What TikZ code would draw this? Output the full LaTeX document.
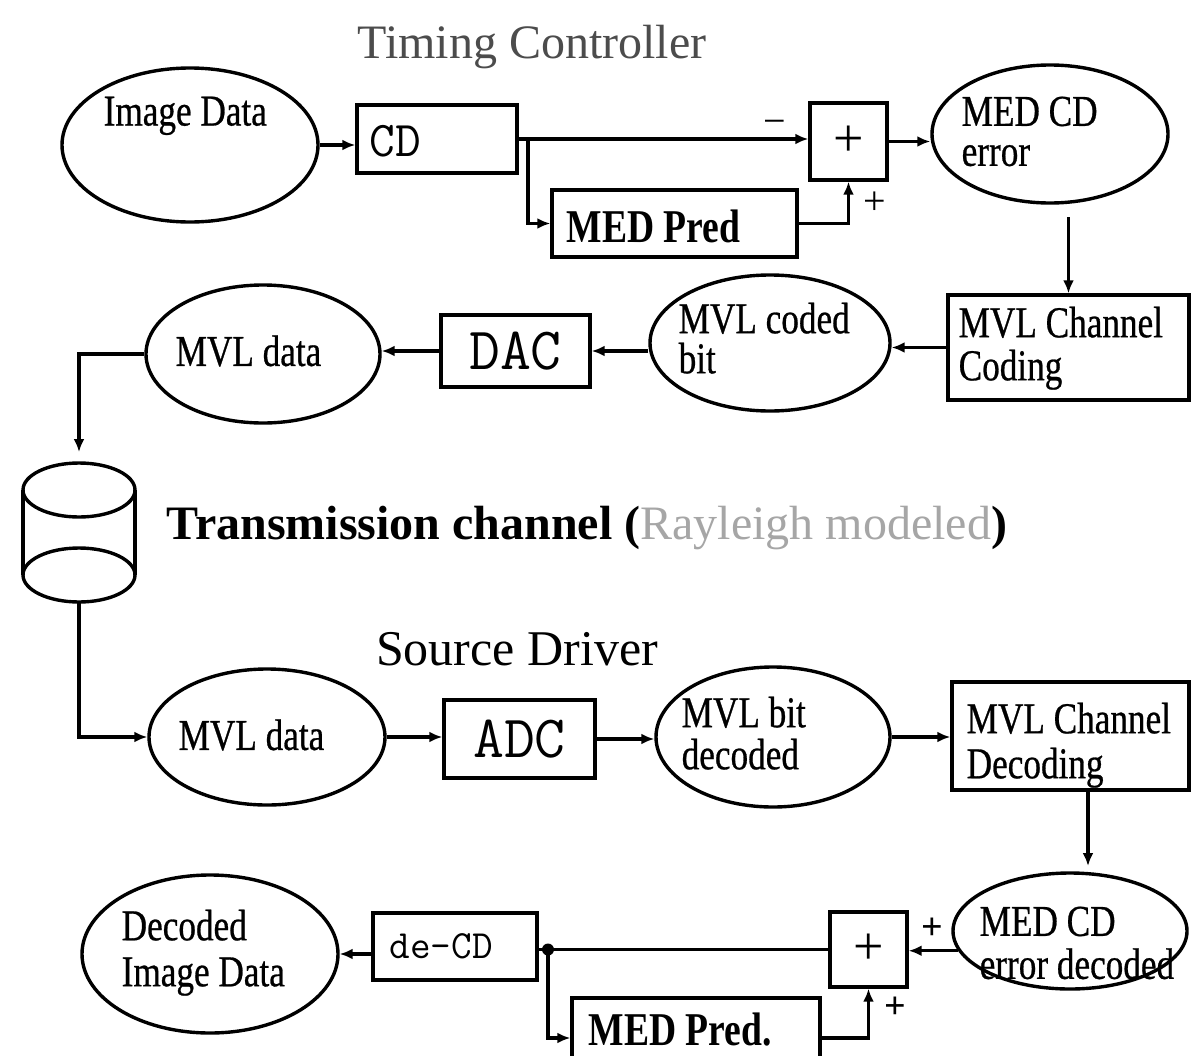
\documentclass[tikz,border=0pt]{standalone}
\usepackage{fontspec}
\setmainfont{Liberation Serif}
\newfontfamily\lab{Liberation Serif}[FakeStretch=0.8,FakeBold=0.6]
\newfontfamily\labb{Liberation Serif Bold}[FakeStretch=0.8]
\newfontfamily\ttl{Liberation Serif}
\newfontfamily\mon{Latin Modern Mono}
\usetikzlibrary{shapes.geometric,arrows.meta}
\begin{document}
\begin{tikzpicture}[x=1pt,y=-1pt,
  line width=3.4pt,
  arr/.style={-{Latex[length=13pt,width=11pt]}},
  oval/.style={ellipse,draw,line width=3.4pt,inner sep=0pt},
  blk/.style={rectangle,draw,line width=3.4pt,inner sep=0pt},
  txt/.style={inner sep=0pt,anchor=north west,align=left},
  sgn/.style={inner sep=0pt,font=\ttl\fontsize{40}{40}\selectfont}
]
\useasboundingbox (0,0) rectangle (1191,1055);
\fill[white] (0,0) rectangle (1191,1055);

% titles
\node[inner sep=0pt,text=black!70,font=\ttl\fontsize{48}{48}\selectfont] (t1) at (532,47) {Timing Controller};
\node[inner sep=0pt,anchor=base west,font=\ttl\bfseries\fontsize{48}{48}\selectfont] (t2) at (165,539) {Transmission channel (\textcolor{black!35}{\mdseries Rayleigh modeled})};
\node[inner sep=0pt,font=\ttl\fontsize{50}{50}\selectfont] (t3) at (517,649) {Source Driver};

% row 1
\node[oval,minimum width=256pt,minimum height=154pt] (img) at (190,145) {};
\node[txt,font=\lab\fontsize{44}{42}\selectfont] (imgt) at (102,95) {Image Data};
\node[blk,minimum width=160pt,minimum height=68pt] (cd) at (437,139) {};
\node[inner sep=0pt,anchor=west,font=\mon\fontsize{50}{50}\selectfont] (cdt) at (368,141) {CD};
\node[blk,minimum width=77pt,minimum height=77pt,font=\ttl\fontsize{54}{54}\selectfont] (sum1) at (848.5,141.5) {+};
\node[blk,minimum width=245pt,minimum height=67pt] (pred1) at (674.5,223.5) {};
\node[txt,font=\labb\fontsize{47}{47}\selectfont] (pred1t) at (565,208) {MED Pred};
\node[oval,minimum width=236pt,minimum height=138pt] (err1) at (1050,134) {};
\node[txt,font=\lab\fontsize{44}{40}\selectfont] (err1t) at (960,95) {MED CD\\error};
\node[blk,minimum width=241pt,minimum height=105pt] (cod) at (1068.5,347.5) {};
\node[txt,font=\lab\fontsize{44}{43}\selectfont] (codt) at (957,305) {MVL Channel\\Coding};

% row 2
\node[oval,minimum width=234pt,minimum height=138pt] (mvl1) at (263,354) {};
\node[inner sep=0pt,anchor=west,font=\lab\fontsize{44}{44}\selectfont] (mvl1t) at (174,351) {MVL data};
\node[blk,minimum width=149pt,minimum height=72pt,font=\mon\fontsize{60}{60}\selectfont] (dac) at (515.5,351) {DAC};
\node[oval,minimum width=240pt,minimum height=136pt] (cbit) at (770,343) {};
\node[txt,font=\lab\fontsize{44}{40}\selectfont] (cbitt) at (677,301) {MVL coded\\bit};

% cylinder
\draw (79,490) ellipse [x radius=56pt, y radius=27pt];
\draw (23,490) -- (23,575);
\draw (135,490) -- (135,575);
\draw (79,575) ellipse [x radius=56pt, y radius=27pt];
\coordinate (cyltop) at (79,452);
\coordinate (cylbot) at (79,602);

% row 3
\node[oval,minimum width=236pt,minimum height=136pt] (mvl2) at (267,737) {};
\node[inner sep=0pt,anchor=west,font=\lab\fontsize{44}{44}\selectfont] (mvl2t) at (177,735) {MVL data};
\node[blk,minimum width=151pt,minimum height=78pt,font=\mon\fontsize{60}{60}\selectfont] (adc) at (519.5,739) {ADC};
\node[oval,minimum width=234pt,minimum height=140pt] (bdec) at (773,737) {};
\node[txt,font=\lab\fontsize{44}{42}\selectfont] (bdect) at (680,695) {MVL bit\\decoded};
\node[blk,minimum width=237pt,minimum height=108pt] (dcod) at (1070.5,736) {};
\node[txt,font=\lab\fontsize{44}{45}\selectfont] (dcodt) at (965,701) {MVL Channel\\Decoding};

% row 4
\node[oval,minimum width=234pt,minimum height=116pt] (err2) at (1070,931) {};
\node[txt,font=\lab\fontsize{44}{43}\selectfont] (err2t) at (978,905) {MED CD\\error decoded};
\node[blk,minimum width=77pt,minimum height=75pt,font=\ttl\fontsize{54}{54}\selectfont] (sum2) at (868.5,949.5) {+};
\node[blk,minimum width=248pt,minimum height=80pt] (pred2) at (696,1038) {};
\node[txt,font=\labb\fontsize{47}{47}\selectfont] (pred2t) at (587,1011) {MED Pred.};
\node[blk,minimum width=164pt,minimum height=67pt] (decd) at (455,946.5) {};
\node[inner sep=0pt,anchor=west,font=\mon\fontsize{40}{40}\selectfont] (decdt) at (388,946) {de-CD};
\node[oval,minimum width=256pt,minimum height=158pt] (dimg) at (210,954) {};
\node[txt,font=\lab\fontsize{44}{46}\selectfont] (dimgt) at (120,908) {Decoded\\Image Data};

% sign labels
\node[sgn] (m1) at (775,127) {−};
\node[sgn] (p1) at (875,203) {+};
\node[sgn,font=\ttl\bfseries\fontsize{38}{38}\selectfont] (p2) at (932,929) {+};
\node[sgn,font=\ttl\bfseries\fontsize{38}{38}\selectfont] (p3) at (895,1008) {+};

% connectors row 1
\coordinate (j1) at (528,139);
\draw[arr] (img.east) -- (img.east -| cd.west);
\draw[arr] (cd.east) -- (cd.east -| sum1.west);
\draw[arr] (j1) |- (pred1.west);
\draw[arr] (pred1.east) -| (sum1.south);
\draw[arr] (sum1.east) -- (sum1.east -| err1.west);
\coordinate (a1) at (1068.5,217);
\draw[arr] (a1) -- (cod.north);
\draw[arr] (cod.west) -- (cod.west -| cbit.east);

% connectors row 2
\draw[arr] (cbit.west |- dac.east) -- (dac.east);
\draw[arr] (dac.west) -- (dac.west -| mvl1.east);
\draw[arr] (mvl1.west) -| (cyltop);
\draw[arr] (cylbot) |- (mvl2.west);

% connectors row 3
\draw[arr] (mvl2.east) -- (mvl2.east -| adc.west);
\draw[arr] (adc.east) -- (adc.east -| bdec.west);
\draw[arr] (bdec.east) -- (bdec.east -| dcod.west);
\coordinate (a2) at (1088,866);
\draw[arr] (dcod.south -| a2) -- (a2);

% connectors row 4
\draw[arr] (err2.190) -- (err2.190 -| sum2.east);
\coordinate (j2) at (548,949.5);
\draw (sum2.west) -- (sum2.west -| decd.east);
\fill (j2) circle (6pt);
\draw[arr] (j2) |- (pred2.west);
\draw[arr] (pred2.east) -| (sum2.south);
\draw[arr] (decd.west |- dimg.east) -- (dimg.east);
\end{tikzpicture}
\end{document}
